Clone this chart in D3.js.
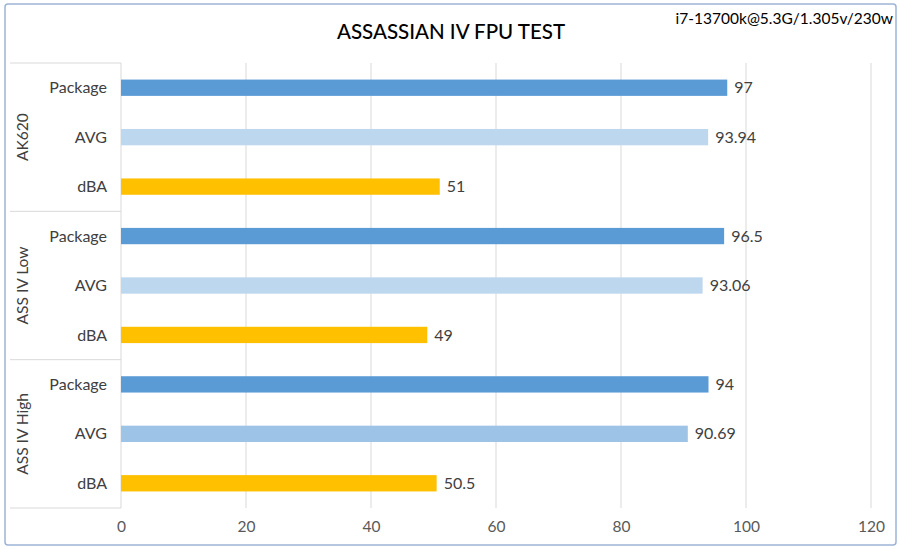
<!DOCTYPE html>
<html><head><meta charset="utf-8">
<script src="https://cdn.jsdelivr.net/npm/d3@7"></script>
<style>body{margin:0;background:#fff}svg{display:block}text{font-family:Lato,"Open Sans",sans-serif}</style>
</head><body><svg id="c" width="900" height="549"></svg>
<script>
const groups = ["AK620", "ASS IV Low", "ASS IV High"];
const metrics = ["Package", "AVG", "dBA"];
const values = [[97, 93.94, 51], [96.5, 93.06, 49], [94, 90.69, 50.5]];
const valueLabels = [["97", "93.94", "51"], ["96.5", "93.06", "49"], ["94", "90.69", "50.5"]];
const xTicks = [0, 20, 40, 60, 80, 100, 120];
const title = "ASSASSIAN IV FPU TEST";
const subtitle = "i7-13700k@5.3G/1.305v/230w";

(function () {
const colorFor = (gi, mi) => mi === 0 ? "#5B9BD5" : mi === 2 ? "#FFC000" : (gi === 2 ? "#9DC3E6" : "#BDD7EE");

const svg = d3.select("#c");
svg.append("rect").attr("x", 5).attr("y", 4).attr("width", 891).attr("height", 541)
  .attr("rx", 3).attr("fill", "#fff").attr("stroke", "#9DB4D8").attr("stroke-width", 1.5);

const pL = 121, pR = 871, pT = 63, pB = 508;
const x = d3.scaleLinear().domain([0, 120]).range([pL, pR]);
const rows = [];
groups.forEach((g, gi) => metrics.forEach((m, mi) => rows.push({g, gi, m, mi, v: values[gi][mi], lab: valueLabels[gi][mi], key: g + "|" + m})));
const y = d3.scaleBand().domain(rows.map(r => r.key)).range([pT, pB]).paddingInner(0).paddingOuter(0);
const barH = y.bandwidth() * 0.33;

svg.append("g").selectAll("line").data(xTicks.slice(1)).join("line")
  .attr("x1", d => x(d)).attr("x2", d => x(d)).attr("y1", pT).attr("y2", pB)
  .attr("stroke", "#D9D9D9").attr("stroke-width", 1);

const xa = svg.append("g").attr("transform", `translate(0,${pB})`)
  .call(d3.axisBottom(x).tickValues(xTicks).tickSize(0).tickPadding(13).tickFormat(d3.format("d")));
xa.select(".domain").remove();
xa.selectAll("text").attr("font-size", 15.5).attr("fill", "#595959").attr("font-family", "Lato,sans-serif");

const ax = svg.append("g").attr("stroke", "#D9D9D9").attr("stroke-width", 1);
ax.append("line").attr("x1", pL).attr("x2", pL).attr("y1", pT).attr("y2", pB);
const gb = groups.map(g => y(g + "|" + metrics[0]));
gb.concat([pB]).forEach(yy => ax.append("line").attr("x1", 10).attr("x2", pL).attr("y1", yy).attr("y2", yy));

svg.append("g").selectAll("rect").data(rows).join("rect")
  .attr("x", x(0)).attr("y", d => y(d.key) + (y.bandwidth() - barH) / 2)
  .attr("width", d => x(d.v) - x(0)).attr("height", barH)
  .attr("fill", d => colorFor(d.gi, d.mi));

svg.append("g").selectAll("text").data(rows).join("text")
  .attr("x", d => x(d.v) + 7).attr("y", d => y(d.key) + y.bandwidth() / 2)
  .attr("dy", "0.35em").attr("font-size", 16).attr("fill", "#404040").text(d => d.lab);

svg.append("g").selectAll("text").data(rows).join("text")
  .attr("x", 107).attr("y", d => y(d.key) + y.bandwidth() / 2)
  .attr("dy", "0.35em").attr("text-anchor", "end").attr("font-size", 16).attr("fill", "#404040").text(d => d.m);

svg.append("g").selectAll("text").data(groups).join("text")
  .attr("transform", g => {
    const cy = y(g + "|" + metrics[1]) + y.bandwidth() / 2;
    return `translate(23,${cy}) rotate(-90)`;
  })
  .attr("text-anchor", "middle").attr("dy", "0.35em").attr("font-size", 15.5).attr("fill", "#404040").text(d => d);

svg.append("text").attr("x", 451).attr("y", 39).attr("text-anchor", "middle")
  .attr("font-size", 20.5).attr("font-weight", 500).attr("fill", "#000").text(title);
svg.append("text").attr("x", 893).attr("y", 24).attr("text-anchor", "end")
  .attr("font-size", 15.5).attr("fill", "#000").text(subtitle);
})();
</script></body></html>
